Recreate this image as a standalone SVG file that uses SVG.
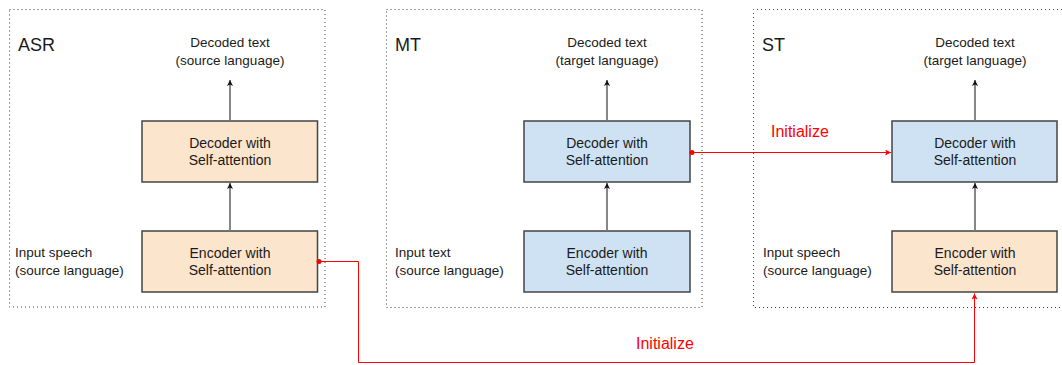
<svg xmlns="http://www.w3.org/2000/svg" width="1062" height="365" viewBox="0 0 1062 365">
<style>
text{font-family:"Liberation Sans",Arial,sans-serif;fill:#1a1a1a}
.panel{fill:none;stroke:#444;stroke-width:1;stroke-dasharray:1 3}
.title{font-size:18px}
.lbl{font-size:13.5px}
.box text{font-size:14px;text-anchor:middle}
.orange{fill:#fce5cd;stroke:#444;stroke-width:1.5}
.blue{fill:#cfe2f3;stroke:#444;stroke-width:1.5}
.arr{fill:none;stroke:#111;stroke-width:1;marker-end:url(#ah)}
.red{fill:none;stroke:#f00;stroke-width:1}
.redt{font-size:16px;fill:#f00}
</style>
<defs>
<marker id="ah" markerWidth="8" markerHeight="8" refX="6" refY="3" orient="auto" markerUnits="userSpaceOnUse"><path d="M0,0 L6,3 L0,6 L1.5,3 Z" fill="#111"/></marker>
<marker id="rah" markerWidth="8" markerHeight="8" refX="6" refY="3" orient="auto" markerUnits="userSpaceOnUse"><path d="M0,0 L6,3 L0,6 L1.5,3 Z" fill="#f00"/></marker>
</defs>
<rect width="1062" height="365" fill="#fff"/>
<g id="panel-asr">
<rect class="panel" x="9.5" y="9.5" width="315.5" height="297.5"/>
<text class="title" x="18" y="51">ASR</text>
<text class="lbl" x="230" y="47" text-anchor="middle">Decoded text</text>
<text class="lbl" x="230" y="65" text-anchor="middle">(source language)</text>
<text class="lbl" x="15" y="257">Input speech</text>
<text class="lbl" x="15" y="275">(source language)</text>
</g>
<g id="panel-mt">
<rect class="panel" x="386.5" y="9.5" width="315.5" height="298"/>
<text class="title" x="395" y="51">MT</text>
<text class="lbl" x="607" y="47" text-anchor="middle">Decoded text</text>
<text class="lbl" x="607" y="65" text-anchor="middle">(target language)</text>
<text class="lbl" x="395" y="257">Input text</text>
<text class="lbl" x="395" y="275">(source language)</text>
</g>
<g id="panel-st">
<path class="panel" d="M1070,9.5 H753.5 V307.5 H1070"/>
<text class="title" x="762" y="51">ST</text>
<text class="lbl" x="975" y="47" text-anchor="middle">Decoded text</text>
<text class="lbl" x="975" y="65" text-anchor="middle">(target language)</text>
<text class="lbl" x="763" y="257">Input speech</text>
<text class="lbl" x="763" y="275">(source language)</text>
</g>
<g id="asr-decoder" class="box">
<rect class="orange" x="142" y="121" width="175.5" height="61"/>
<text x="230" y="148">Decoder with</text>
<text x="230" y="165">Self-attention</text>
</g>
<g id="asr-encoder" class="box">
<rect class="orange" x="142" y="231" width="175.5" height="61"/>
<text x="230" y="258">Encoder with</text>
<text x="230" y="275">Self-attention</text>
</g>
<g id="mt-decoder" class="box">
<rect class="blue" x="524" y="121" width="166" height="61"/>
<text x="607" y="148">Decoder with</text>
<text x="607" y="165">Self-attention</text>
</g>
<g id="mt-encoder" class="box">
<rect class="blue" x="524" y="231" width="166" height="61"/>
<text x="607" y="258">Encoder with</text>
<text x="607" y="275">Self-attention</text>
</g>
<g id="st-decoder" class="box">
<rect class="blue" x="892" y="121" width="165" height="61"/>
<text x="975" y="148">Decoder with</text>
<text x="975" y="165">Self-attention</text>
</g>
<g id="st-encoder" class="box">
<rect class="orange" x="892" y="231" width="165" height="61"/>
<text x="975" y="258">Encoder with</text>
<text x="975" y="275">Self-attention</text>
</g>
<g id="connectors">
<path class="arr" d="M230,120 V80"/>
<path class="arr" d="M230,230 V183"/>
<path class="arr" d="M607,120 V80"/>
<path class="arr" d="M607,230 V183"/>
<path class="arr" d="M975,120 V80"/>
<path class="arr" d="M975,230 V183"/>
<path class="red" d="M317.5,261.5 H358.5 V362.5 H974.5 V293.5" marker-end="url(#rah)"/>
<circle cx="319" cy="261.5" r="2.5" fill="#f00"/>
<path class="red" d="M690,152.5 H891" marker-end="url(#rah)"/>
<circle cx="692" cy="152.5" r="2.5" fill="#f00"/>
<text class="redt" x="771" y="137">Initialize</text>
<text class="redt" x="636" y="349">Initialize</text>
</g>
</svg>
